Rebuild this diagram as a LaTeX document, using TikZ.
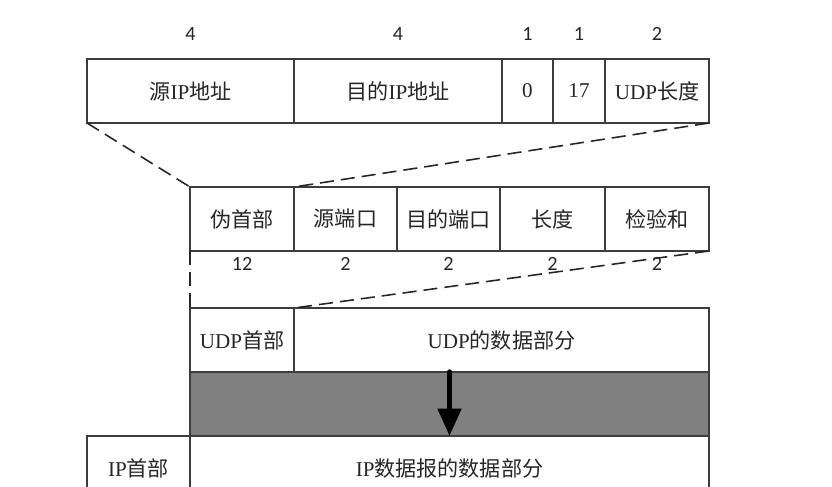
\documentclass[tikz,border=0pt]{standalone}
\usepackage{fontspec}
\setmainfont{Liberation Serif}
\newfontfamily\cjk{Noto Sans CJK SC}
\newfontfamily\numfont{Carlito}
\usetikzlibrary{positioning,arrows.meta}
\usepackage{xcolor}
\definecolor{UDPLine}{RGB}{60,60,60}
\definecolor{UDPGray}{RGB}{128,128,128}
\newcommand{\zh}[1]{{\cjk #1}}

\begin{document}
\begin{tikzpicture}[
node distance=0pt,
cell/.style={rectangle,draw=UDPLine,line width=0.6pt,fill=white,inner sep=0pt,outer sep=0pt,
minimum height=1.28cm,align=center,font=\fontsize{12}{14}\selectfont,text=black!85},
num/.style={inner sep=0pt,font=\numfont\fontsize{11.5}{13}\selectfont,text=black!85},
zoomline/.style={draw=black!85,line width=0.9pt,dash pattern=on 8pt off 4pt},
bigarrow/.style={-{Triangle[length=5.5mm,width=4.6mm]},line width=3pt,line cap=round,draw=black}
]
\useasboundingbox (0,0) rectangle (16.64,-9.72);
\clip (0,0) rectangle (16.64,-9.72);
% IP pseudo header
\node[cell,minimum width=4.14cm,anchor=north west] (src) at (1.74,-1.18) {\zh{源}IP\zh{地址}};
\node[cell,minimum width=4.16cm,right=of src] (dst) {\zh{目的}IP\zh{地址}};
\node[cell,minimum width=1.02cm,right=of dst] (zero) {0};
\node[cell,minimum width=1.04cm,right=of zero] (proto) {17};
\node[cell,minimum width=2.08cm,right=of proto] (udplen) {UDP\zh{长度}};
\node[num] at ([yshift=5mm]src.north) {4};
\node[num] at ([yshift=5mm]dst.north) {4};
\node[num] at ([yshift=5mm]zero.north) {1};
\node[num] at ([yshift=5mm]proto.north) {1};
\node[num] at ([yshift=5mm]udplen.north) {2};
% UDP header
\node[cell,minimum width=2.08cm,anchor=north west] (pseudo) at (3.80,-3.74) {\zh{伪首部}};
\node[cell,minimum width=2.06cm,right=of pseudo] (sport) {\zh{源端口}};
\node[cell,minimum width=2.06cm,right=of sport] (dport) {\zh{目的端口}};
\node[cell,minimum width=2.10cm,right=of dport] (len) {\zh{长度}};
\node[cell,minimum width=2.08cm,right=of len] (chk) {\zh{检验和}};
\node[num] at ([yshift=-2.6mm]pseudo.south) {12};
\node[num] at ([yshift=-2.6mm]sport.south) {2};
\node[num] at ([yshift=-2.6mm]dport.south) {2};
\node[num] at ([yshift=-2.6mm]len.south) {2};
\node[num] at ([yshift=-2.6mm]chk.south) {2};
% UDP datagram
\node[cell,minimum width=2.08cm,anchor=north west] (udphdr) at (3.80,-6.16) {UDP\zh{首部}};
\node[cell,minimum width=8.30cm,right=of udphdr] (udpdata) {UDP\zh{的数据部分}};
\node[cell,minimum width=10.38cm,fill=UDPGray,below=of udphdr.south west,anchor=north west] (band) {};
% IP datagram
\node[cell,minimum width=2.06cm,anchor=north west] (iphdr) at (1.74,-8.72) {IP\zh{首部}};
\node[cell,minimum width=10.38cm,right=of iphdr] (ipdata) {IP\zh{数据报的数据部分}};
\draw[zoomline] (src.south west) -- (pseudo.north west);
\draw[zoomline] (udplen.south east) -- (sport.north west);
\draw[zoomline] (pseudo.south west) -- (udphdr.north west);
\draw[zoomline] (chk.south east) -- (udpdata.north west);
\draw[bigarrow] (band.north) -- (band.south);
\end{tikzpicture}
\end{document}
